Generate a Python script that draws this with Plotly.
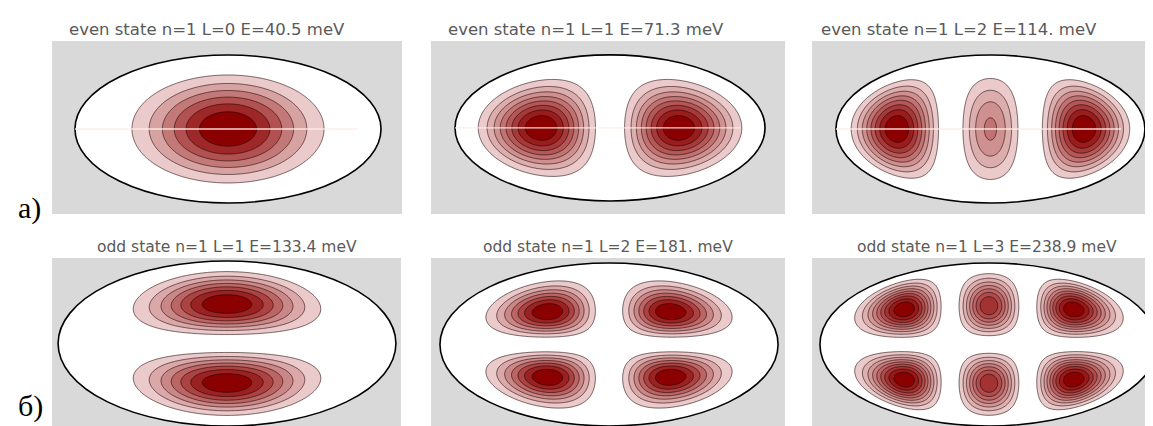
import numpy as np
import plotly.graph_objects as go

# ---------------- data ----------------
titles = [
    "even state n=1 L=0 E=40.5 meV",
    "even state n=1 L=1 E=71.3 meV",
    "even state n=1 L=2 E=114. meV",
    "odd state n=1 L=1 E=133.4 meV",
    "odd state n=1 L=2 E=181. meV",
    "odd state n=1 L=3 E=238.9 meV",
]
parity = ["even", "even", "even", "odd", "odd", "odd"]
L_values = [0, 1, 2, 1, 2, 3]
energies_meV = [40.5, 71.3, 114.0, 133.4, 181.0, 238.9]
# nodal lines of each state (in units of the ellipse semi-axes)
x_nodes = [[], [0.0], [-0.26, 0.26], [], [0.0], [-0.23, 0.23]]
y_nodes = [[], [], [], [0.0], [0.0], [0.0]]
# confinement widths read from lobe positions
alpha_x = [1.2, 1.3, 1.78, 1.8, 2.4, 3.3]
alpha_y = [0.4, 0.8, 0.2, 0.9, 1.7, 0.93]
n_levels = [6, 8, 8, 7, 7, 9]
row_labels = ["а)", "б)"]

# ---------------- layout geometry (pixels) ----------------
W, H = 1153, 426
panel_px_x = [(44, 394), (423, 777), (804, 1153), (44, 393), (423, 777), (804, 1153)]
panel_px_y = [(33, 206)] * 3 + [(250, 422)] * 3
x_ranges = [(-1.150, 1.137), (-1.155, 1.129), (-1.155, 1.104),
            (-1.036, 1.030), (-1.053, 1.041), (-1.047, 1.018)]
y_ranges = [(-1.149, 1.189), (-1.178, 1.190), (-1.149, 1.189),
            (-1.048, 1.036), (-1.049, 1.061), (-1.049, 1.061)]
title_dx = [-20, -22, -28, 0, 0, 0]

PINK = "rgb(234,202,202)"
DARK = "rgb(139,0,0)"

xi = np.linspace(-1, 1, 401)
eta = np.linspace(-1, 1, 221)
XI, ETA = np.meshgrid(xi, eta)
wall = np.clip(1 - XI**2 - ETA**2, 0, None)

fig = go.Figure()
layout = dict(width=W, height=H, autosize=False,
              margin=dict(l=0, r=0, t=0, b=0),
              paper_bgcolor="white", plot_bgcolor="#d9d9d9",
              showlegend=False)
shapes = []
annotations = []

for i in range(6):
    k = "" if i == 0 else str(i + 1)
    xa, ya = "x" + k, "y" + k
    px = np.ones_like(XI)
    for n in x_nodes[i]:
        px = px * (XI - n)
    py = np.ones_like(ETA)
    for n in y_nodes[i]:
        py = py * (ETA - n)
    psi = px * py * np.exp(-alpha_x[i] * XI**2 - alpha_y[i] * ETA**2) * wall
    z = psi**2
    z = z / z.max()
    N = n_levels[i]
    step = 1.0 / (N + 1)
    fig.add_trace(go.Contour(
        x=xi, y=eta, z=z, xaxis=xa, yaxis=ya,
        autocontour=False,
        contours=dict(start=step, end=N * step, size=step, coloring="fill"),
        colorscale=[[0, "rgba(255,255,255,0)"], [1.0 / N, PINK], [1, DARK]],
        line=dict(color="rgba(30,0,0,0.75)", width=0.8),
        showscale=False, hoverinfo="skip",
    ))
    x0, x1 = panel_px_x[i]
    y0, y1 = panel_px_y[i]
    layout["xaxis" + k] = dict(domain=[x0 / W, x1 / W], range=list(x_ranges[i]),
                               visible=False, anchor=ya, fixedrange=True)
    layout["yaxis" + k] = dict(domain=[1 - y1 / H, 1 - y0 / H], range=list(y_ranges[i]),
                               visible=False, anchor=xa, fixedrange=True)
    # white ellipse interior
    shapes.append(dict(type="circle", xref=xa, yref=ya, x0=-1, x1=1, y0=-1, y1=1,
                       fillcolor="white", line=dict(width=0), layer="below"))
    # ellipse border
    shapes.append(dict(type="circle", xref=xa, yref=ya, x0=-1, x1=1, y0=-1, y1=1,
                       line=dict(color="black", width=1.6), layer="above"))
    if parity[i] == "even":
        shapes.append(dict(type="line", xref=xa, yref=ya, x0=-1, x1=0.845, y0=0, y1=0,
                           line=dict(color="rgba(255,236,228,0.9)", width=1.3), layer="above"))
    # title
    ty = 21 if i < 3 else 239
    fs = 16.5 if i < 3 else 15.5
    annotations.append(dict(text=titles[i], xref="paper", yref="paper",
                            x=((x0 + x1) / 2 + title_dx[i]) / W, y=1 - ty / H, showarrow=False,
                            xanchor="center", yanchor="middle",
                            font=dict(family="DejaVu Sans", size=fs, color="#5a5a5a")))

# row labels
annotations.append(dict(text=row_labels[0], xref="paper", yref="paper", x=8 / W, y=1 - 200 / H,
                        showarrow=False, xanchor="left", yanchor="middle",
                        font=dict(family="Liberation Serif, Times New Roman", size=30, color="black")))
annotations.append(dict(text=row_labels[1], xref="paper", yref="paper", x=8 / W, y=1 - 398 / H,
                        showarrow=False, xanchor="left", yanchor="middle",
                        font=dict(family="Liberation Serif, Times New Roman", size=30, color="black")))

layout["shapes"] = shapes
layout["annotations"] = annotations
fig.update_layout(**layout)
fig.write_html("out.html")
